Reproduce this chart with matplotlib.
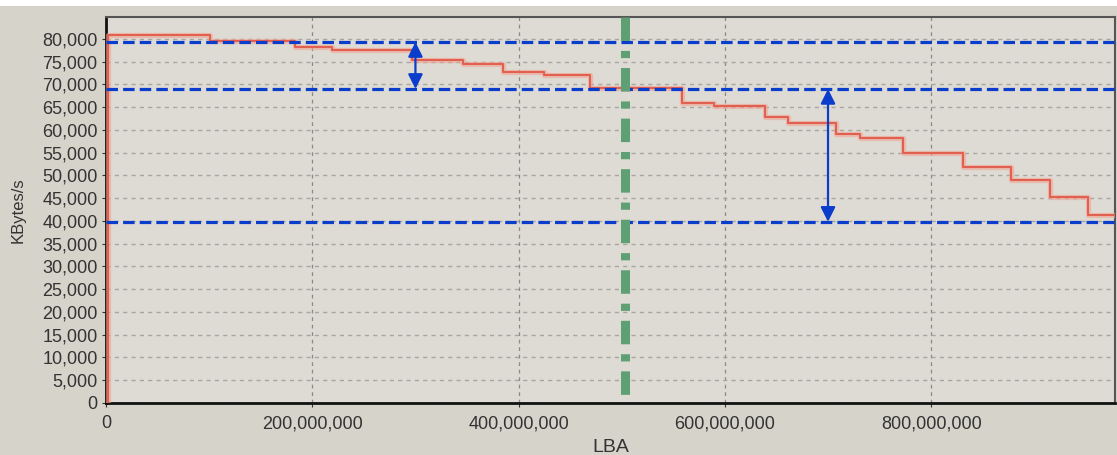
#!/usr/bin/env python3
import matplotlib
matplotlib.use('Agg')
import matplotlib.pyplot as plt
from matplotlib.patches import Rectangle
from matplotlib.ticker import FuncFormatter, MultipleLocator

# Transfer rate steps across the disk (LBA in millions, KBytes/s)
step_lba_m = [0, 2, 101, 183, 219, 297, 346, 385, 425, 469, 558, 589, 639,
              661, 708, 731, 773, 831, 877, 915, 952, 978]
step_rate = [0, 80900, 79500, 78200, 77600, 75400, 74500, 72700, 72100,
             69300, 66000, 65300, 62900, 61500, 59100, 58200, 55000, 51900,
             49000, 45300, 41300, 41300]

# Reference levels and markers
level_lines = [79300, 69000, 39800]
marker_lba_m = 503
arrows = [(300, 79300, 69000), (700, 69000, 39800)]  # (lba M, top, bottom)

x_max_m = 978
y_max = 84800

BG = '#d6d3cb'
PLOT_BG = '#dedbd4'
BLUE = '#0b3dcc'
GREEN = '#5f9f74'
RED = '#e2604f'

plt.rcParams['font.family'] = ['Liberation Sans', 'DejaVu Sans']

fig = plt.figure(figsize=(11.17, 4.55), dpi=100, facecolor=BG)
fig.patches.append(Rectangle((0, 0.987), 1, 0.013, transform=fig.transFigure,
                             facecolor='white', edgecolor='none'))
ax = fig.add_axes([0.0949, 0.1143, 0.9031, 0.8483])
ax.set_facecolor(PLOT_BG)

lba = [v * 1e6 for v in step_lba_m]

# grid
ax.yaxis.set_major_locator(MultipleLocator(5000))
ax.xaxis.set_major_locator(MultipleLocator(200e6))
ax.grid(axis='y', color='#a8a6a0', linestyle=(0, (3, 3)), linewidth=1.0)
ax.grid(axis='x', color='#8c8a85', linestyle=(0, (3, 3)), linewidth=0.9)

# red curve with a soft halo
ax.step(lba, step_rate, where='post', color='#f2a396', linewidth=3.8, alpha=0.6, zorder=3)
ax.step(lba, step_rate, where='post', color=RED, linewidth=1.5, zorder=4)

# blue reference lines
for lvl in level_lines:
    ax.axhline(lvl, color=BLUE, linewidth=2.3, linestyle=(0, (3.6, 1.6)), zorder=5)

# green marker, dashed from the top down
ax.plot([marker_lba_m * 1e6, marker_lba_m * 1e6], [y_max, 0], color=GREEN,
        linewidth=6.5, linestyle=(0, (2.6, 1.1, 0.8, 1.1)),
        dash_capstyle='butt', zorder=6)

# double arrows
for x_m, top, bot in arrows:
    ax.annotate('', xy=(x_m * 1e6, top), xytext=(x_m * 1e6, bot),
                arrowprops=dict(arrowstyle='<|-|>', color=BLUE, lw=1.6,
                                mutation_scale=22, shrinkA=0, shrinkB=0),
                zorder=7)

ax.set_xlim(0, x_max_m * 1e6)
ax.set_ylim(0, y_max)

ax.xaxis.set_major_formatter(FuncFormatter(lambda v, p: f"{int(round(v)):,}"))
ax.yaxis.set_major_formatter(FuncFormatter(lambda v, p: f"{int(round(v)):,}"))
ax.tick_params(axis='both', labelsize=13, colors='#333333', length=3, width=0.8)
ax.tick_params(axis='x', pad=6)
ax.tick_params(axis='y', pad=3)

for side in ['left', 'bottom']:
    ax.spines[side].set_color('#111111')
    ax.spines[side].set_linewidth(2.0)
for side in ['top', 'right']:
    ax.spines[side].set_color('#555555')
    ax.spines[side].set_linewidth(1.5)

ax.set_xlabel('LBA', fontsize=14, color='#333333', labelpad=5)
ax.set_ylabel('KBytes/s', fontsize=12, color='#333333', labelpad=12)

fig.savefig('out.png', dpi=100, facecolor=BG)
